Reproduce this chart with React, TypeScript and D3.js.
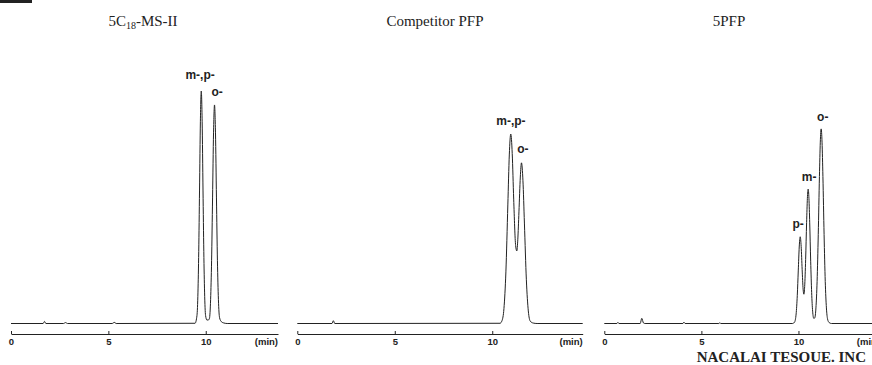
import { useRef, useEffect } from "react";
import * as d3 from "d3";

// retention time (min) vs detector signal (relative, tallest peak = 100)
const c18Trace: [number, number][] = [
  [0, 0], [1.65, 0], [1.72, 0.9], [1.79, 0], [2.7, 0], [2.8, 0.4], [2.9, 0],
  [5.2, 0], [5.3, 0.5], [5.4, 0],
  [9.45, 0.1], [9.55, 3.5], [9.6, 13.5], [9.64, 31], [9.68, 57], [9.725, 87],
  [9.77, 100], [9.815, 87], [9.86, 57], [9.9, 31], [9.94, 13.5], [9.99, 3.5],
  [10.06, 1.5], [10.13, 1.5], [10.19, 2.2], [10.25, 10.4], [10.3, 27],
  [10.35, 54], [10.4, 82], [10.45, 94], [10.5, 82], [10.55, 54], [10.6, 27],
  [10.65, 10.4], [10.71, 2.5], [10.8, 0.8], [10.9, 0.3], [11.1, 0], [13.71, 0],
];

const competitorTrace: [number, number][] = [
  [0, 0], [1.78, 0], [1.85, 1.2], [1.92, 0],
  [10.4, 0.1], [10.5, 1.2], [10.6, 6.4], [10.7, 22.2], [10.8, 51],
  [10.875, 72.5], [10.95, 81.5], [11.025, 73.1], [11.1, 53.5], [11.2, 33.5],
  [11.26, 31.2], [11.31, 36], [11.37, 48], [11.44, 63], [11.5, 69.1],
  [11.575, 61.4], [11.65, 43.2], [11.75, 18.8], [11.85, 5.4], [11.95, 1.0],
  [12.1, 0.2], [12.3, 0], [14.64, 0],
];

const pfpTrace: [number, number][] = [
  [0, 0], [0.65, 0], [0.7, 0.5], [0.75, 0], [1.85, 0], [1.93, 2.2], [2.02, 0.2],
  [2.1, 0], [4.05, 0], [4.1, 0.6], [4.16, 0], [5.9, 0], [5.95, 0.3], [6.0, 0],
  [9.7, 0], [9.8, 0.6], [9.88, 4.1], [9.94, 12.1], [9.99, 22.6], [10.04, 32.9],
  [10.09, 37.3], [10.14, 33.1], [10.19, 23.3], [10.24, 14.8], [10.28, 12.6],
  [10.32, 15.9], [10.37, 27.5], [10.42, 43.4], [10.46, 53.8], [10.5, 57.8],
  [10.54, 53.8], [10.58, 43.3], [10.63, 26.8], [10.68, 13.3], [10.73, 5.3],
  [10.79, 2.2], [10.84, 2.4], [10.9, 6.7], [10.96, 18.1], [11.02, 38.3],
  [11.08, 63.2], [11.125, 78], [11.17, 83.7], [11.215, 78], [11.26, 63.2],
  [11.32, 38.3], [11.38, 18.1], [11.44, 6.7], [11.5, 1.9], [11.58, 0.4],
  [11.7, 0], [14.2, 0],
];

// peak labels: text, retention time, signal level of label baseline
const c18Labels = [
  { text: "m-,p-", t: 9.71, v: 105.2 },
  { text: "o-", t: 10.58, v: 97.8 },
];
const competitorLabels = [
  { text: "m-,p-", t: 10.96, v: 85.4 },
  { text: "o-", t: 11.57, v: 73.2 },
];
const pfpLabels = [
  { text: "p-", t: 9.98, v: 41.1 },
  { text: "m-", t: 10.55, v: 61.4 },
  { text: "o-", t: 11.25, v: 87.2 },
];

const runEnd = [13.71, 14.64, 14.2];
const tickValues = [0, 5, 10];
const titles = [
  { main: "5C", sub: "18", rest: "-MS-II" },
  { main: "Competitor PFP", sub: "", rest: "" },
  { main: "5PFP", sub: "", rest: "" },
];

const W = 872;
const H = 365;

export default function App() {
  const svgRef = useRef<SVGSVGElement>(null);

  useEffect(() => {
    const svg = d3.select(svgRef.current);
    svg.selectAll("*").remove();

    const panels = [
      { trace: c18Trace, labels: c18Labels, range: [11, 278], titleX: 143 },
      { trace: competitorTrace, labels: competitorLabels, range: [297.3, 582.7], titleX: 435 },
      { trace: pfpTrace, labels: pfpLabels, range: [604.3, 880], titleX: 729 },
    ];

    const y = d3.scaleLinear().domain([0, 100]).range([323.5, 91]);
    const axisY = 334;

    // scan artefact in the corner
    svg.append("rect").attr("x", 0).attr("y", 0).attr("width", 32).attr("height", 3).attr("fill", "#222");

    panels.forEach((p, i) => {
      const x = d3.scaleLinear().domain([0, runEnd[i]]).range(p.range);

      // title
      const tt = svg.append("text")
        .attr("x", p.titleX)
        .attr("y", 26)
        .attr("text-anchor", "middle")
        .style("font-family", "'Liberation Serif', 'Times New Roman', serif")
        .style("font-size", "15px")
        .style("fill", "#222");
      tt.append("tspan").text(titles[i].main);
      if (titles[i].sub) {
        tt.append("tspan").attr("dy", 3).style("font-size", "10px").text(titles[i].sub);
        tt.append("tspan").attr("dy", -3).text(titles[i].rest);
      }

      // chromatogram trace
      const line = d3.line<[number, number]>()
        .x(d => x(d[0]))
        .y(d => y(d[1]))
        .curve(d3.curveMonotoneX);

      svg.append("path")
        .datum(p.trace)
        .attr("fill", "none")
        .attr("stroke", "#222")
        .attr("stroke-width", 1)
        .attr("stroke-linejoin", "round")
        .attr("d", line);

      // peak labels
      svg.selectAll(null)
        .data(p.labels)
        .enter()
        .append("text")
        .attr("x", d => x(d.t))
        .attr("y", d => y(d.v))
        .attr("text-anchor", "middle")
        .style("font-family", "'Liberation Sans', Arial, sans-serif")
        .style("font-weight", "700")
        .style("font-size", "12px")
        .style("fill", "#222")
        .text(d => d.text);

      // time axis
      const g = svg.append("g")
        .attr("transform", `translate(0,${axisY})`)
        .call(d3.axisBottom(x).tickValues(tickValues).tickSizeInner(-3).tickSizeOuter(0).tickPadding(4));
      g.select(".domain").attr("stroke", "#222");
      g.selectAll(".tick line").attr("stroke", "#222");
      g.selectAll(".tick text")
        .style("font-family", "'Liberation Sans', Arial, sans-serif")
        .style("font-weight", "700")
        .style("font-size", "9.5px")
        .attr("fill", "#222");

      svg.append("text")
        .attr("x", p.range[1])
        .attr("y", 345)
        .attr("text-anchor", "end")
        .style("font-family", "'Liberation Sans', Arial, sans-serif")
        .style("font-weight", "700")
        .style("font-size", "9.5px")
        .style("fill", "#222")
        .text("(min)");
    });

    svg.append("text")
      .attr("x", 866)
      .attr("y", 362)
      .attr("text-anchor", "end")
      .style("font-family", "'Liberation Serif', 'Times New Roman', serif")
      .style("font-weight", "700")
      .style("font-size", "15px")
      .style("fill", "#222")
      .text("NACALAI TESOUE. INC");
  }, []);

  return (
    <svg
      ref={svgRef}
      width={W}
      height={H}
      style={{ position: "absolute", left: 0, top: 0, background: "#fff" }}
    />
  );
}
